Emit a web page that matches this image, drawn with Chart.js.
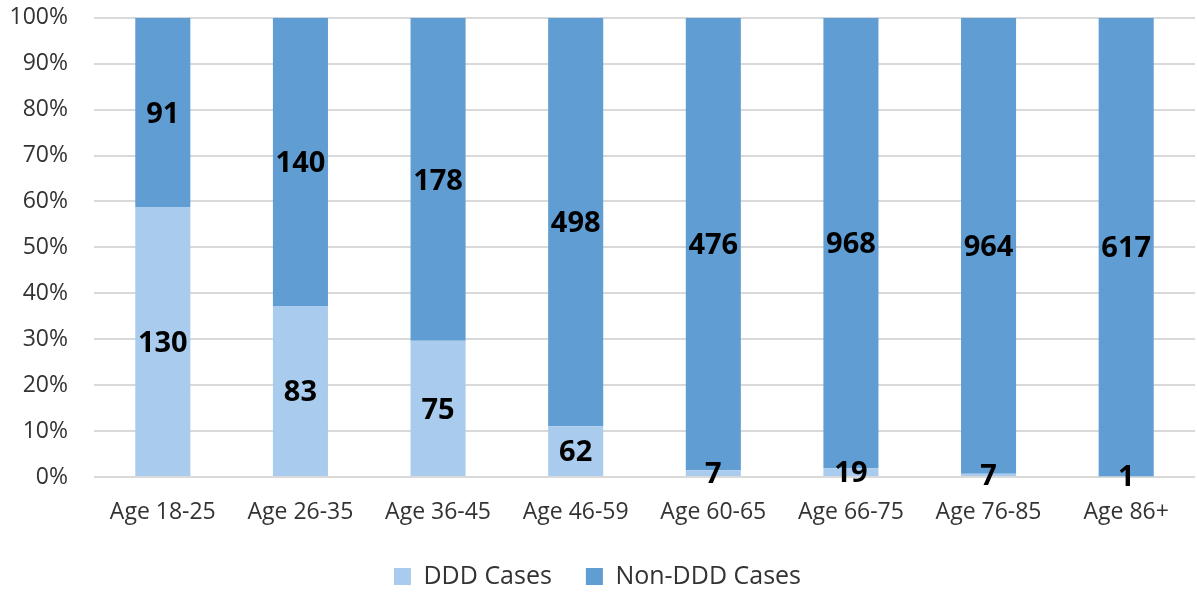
<!DOCTYPE html>
<html>
<head>
<meta charset="utf-8">
<script src="https://cdn.jsdelivr.net/npm/chart.js@4/dist/chart.umd.min.js"></script>
<style>
    html, body { margin: 0; padding: 0; background: #fff; }
    #wrap { width: 1197px; height: 593px; }
</style>
</head>
<body>
<div id="wrap"><canvas id="chart"></canvas></div>
<script>
const ageGroups = ["Age 18-25", "Age 26-35", "Age 36-45", "Age 46-59", "Age 60-65", "Age 66-75", "Age 76-85", "Age 86+"];
const dddCases = [130, 83, 75, 62, 7, 19, 7, 1];
const nonDddCases = [91, 140, 178, 498, 476, 968, 964, 617];
const yTicks = [0, 10, 20, 30, 40, 50, 60, 70, 80, 90, 100];

// share of each group, the chart is a 100% stack
const totals = ageGroups.map((g, i) => dddCases[i] + nonDddCases[i]);
const dddShare = dddCases.map((v, i) => v / totals[i] * 100);
const nonDddShare = nonDddCases.map((v, i) => v / totals[i] * 100);

const font = "'Open Sans', sans-serif";

// writes the raw count in the middle of every segment
const countLabels = {
    id: "countLabels",
    afterDatasetsDraw(chart) {
        const ctx = chart.ctx;
        ctx.save();
        ctx.font = "bold 29px " + font;
        ctx.fillStyle = "#000";
        ctx.textAlign = "center";
        ctx.textBaseline = "middle";
        chart.data.datasets.forEach((ds, di) => {
            const meta = chart.getDatasetMeta(di);
            meta.data.forEach((bar, i) => {
                const y = (bar.y + bar.base) / 2;
                ctx.fillText(String(ds.counts[i]), bar.x, y + 2);
            });
        });
        ctx.restore();
    }
};

new Chart(document.getElementById("chart"), {
    type: "bar",
    data: {
        labels: ageGroups,
        datasets: [
            {
                label: "DDD Cases",
                data: dddShare,
                counts: dddCases,
                backgroundColor: "#A9CBEE"
            },
            {
                label: "Non-DDD Cases",
                data: nonDddShare,
                counts: nonDddCases,
                backgroundColor: "#5F9DD3"
            }
        ]
    },
    options: {
        responsive: true,
        maintainAspectRatio: false,
        animation: false,
        datasets: {
            bar: { categoryPercentage: 1, barPercentage: 0.4 }
        },
        layout: { padding: { top: 0, right: 2, left: 0, bottom: 0 } },
        plugins: {
            tooltip: { enabled: false },
            legend: {
                position: "bottom",
                maxHeight: 63,
                labels: {
                    font: { family: font, size: 25 },
                    color: "#333",
                    boxWidth: 17,
                    boxHeight: 17,
                    padding: 34
                }
            }
        },
        scales: {
            x: {
                stacked: true,
                afterFit(axis) {
                    axis.height = 53;
                },
                grid: { display: false },
                border: { display: false },
                ticks: {
                    font: { family: font, size: 23 },
                    color: "#333",
                    maxRotation: 0,
                    padding: 14
                }
            },
            y: {
                stacked: true,
                min: 0,
                max: 100,
                afterBuildTicks(axis) {
                    axis.ticks = yTicks.map(v => ({ value: v }));
                },
                afterFit(axis) {
                    axis.width = 94;
                },
                grid: {
                    color: "#D9D9D9",
                    lineWidth: 2,
                    drawTicks: true,
                    tickLength: 22,
                    tickColor: "rgba(0,0,0,0)"
                },
                border: { display: false },
                ticks: {
                    font: { family: font, size: 23 },
                    color: "#333",
                    padding: 4,
                    callback: v => v + "%"
                }
            }
        }
    },
    plugins: [countLabels]
});
</script>
</body>
</html>
